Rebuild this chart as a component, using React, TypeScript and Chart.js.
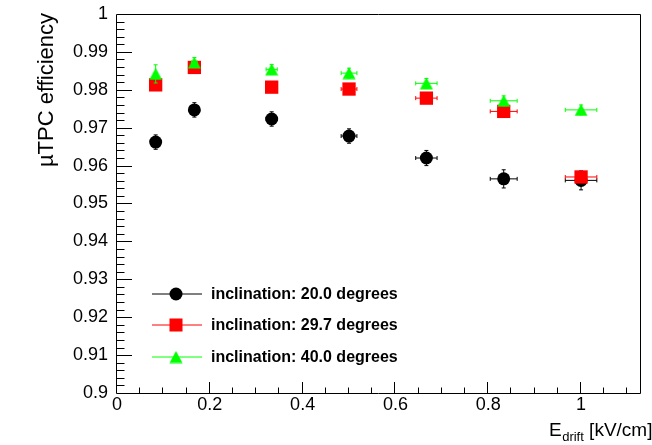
import React, { useEffect, useRef } from 'react';
import { Chart, registerables } from 'chart.js';

Chart.register(...registerables);

// ---- data ----
const driftField = [0.0833, 0.1667, 0.3333, 0.5, 0.6667, 0.8333, 1.0];
const driftFieldErr = [0.003, 0.006, 0.012, 0.017, 0.023, 0.029, 0.034];

const eff20 = [0.9662, 0.9747, 0.9723, 0.9678, 0.962, 0.9565, 0.9561];
const eff20Err = [0.0019, 0.0019, 0.0019, 0.0019, 0.002, 0.0024, 0.0025];

const eff297 = [0.9813, 0.9859, 0.9807, 0.9802, 0.9778, 0.9743, 0.957];
const eff297Err = [0.0012, 0.0012, 0.0012, 0.0012, 0.0012, 0.0012, 0.0012];

const eff40 = [0.9842, 0.9872, 0.9854, 0.9844, 0.9817, 0.9771, 0.9747];
const eff40Err = [0.0024, 0.0013, 0.0013, 0.0013, 0.0013, 0.0013, 0.0013];

const seriesLabels = [
  'inclination: 20.0 degrees',
  'inclination: 29.7 degrees',
  'inclination: 40.0 degrees',
];

const xTickValues = [0, 0.2, 0.4, 0.6, 0.8, 1];
const xTickLabels = ['0', '0.2', '0.4', '0.6', '0.8', '1'];
const yTickValues = [0.9, 0.91, 0.92, 0.93, 0.94, 0.95, 0.96, 0.97, 0.98, 0.99, 1];
const yTickLabels = ['0.9', '0.91', '0.92', '0.93', '0.94', '0.95', '0.96', '0.97', '0.98', '0.99', '1'];

const yTitle = 'µTPC efficiency';
const xTitleMain = 'E';
const xTitleSub = 'drift';
const xTitleUnit = ' [kV/cm]';

const FONT = "'Liberation Sans', Arial, Helvetica, sans-serif";
const BLACK = '#000000';
const RED = '#ff0000';
const GREEN = '#00ff00';

let triangleMarker: HTMLCanvasElement | null = null;

function makeTriangle(color: string): HTMLCanvasElement {
  const c = document.createElement('canvas');
  c.width = 14;
  c.height = 13;
  const g = c.getContext('2d')!;
  g.fillStyle = color;
  g.beginPath();
  g.moveTo(7, 0.5);
  g.lineTo(13.5, 12.5);
  g.lineTo(0.5, 12.5);
  g.closePath();
  g.fill();
  return c;
}

const errorBarPlugin = {
  id: 'errorBars',
  beforeDatasetDraw(chart: any, args: any) {
    const ds = chart.data.datasets[args.index];
    const xs = chart.scales.x;
    const ys = chart.scales.y;
    const ctx = chart.ctx;
    ctx.save();
    ctx.strokeStyle = ds.errColor;
    ctx.lineWidth = 1;
    ds.data.forEach((p: any, i: number) => {
      const px = xs.getPixelForValue(p.x);
      const py = ys.getPixelForValue(p.y);
      const x1 = xs.getPixelForValue(p.x - ds.xErr[i]);
      const x2 = xs.getPixelForValue(p.x + ds.xErr[i]);
      const y1 = ys.getPixelForValue(p.y + ds.yErr[i]);
      const y2 = ys.getPixelForValue(p.y - ds.yErr[i]);
      ctx.beginPath();
      ctx.moveTo(x1, py);
      ctx.lineTo(x2, py);
      ctx.moveTo(x1, py - 2);
      ctx.lineTo(x1, py + 2);
      ctx.moveTo(x2, py - 2);
      ctx.lineTo(x2, py + 2);
      ctx.moveTo(px, y1);
      ctx.lineTo(px, y2);
      ctx.moveTo(px - 2, y1);
      ctx.lineTo(px + 2, y1);
      ctx.moveTo(px - 2, y2);
      ctx.lineTo(px + 2, y2);
      ctx.stroke();
    });
    ctx.restore();
  },
};

const framePlugin = {
  id: 'frameTicks',
  afterDraw(chart: any) {
    const { ctx, chartArea } = chart;
    const { left, right, top, bottom } = chartArea;
    const xs = chart.scales.x;
    const ys = chart.scales.y;
    ctx.save();
    ctx.strokeStyle = '#000';
    ctx.lineWidth = 1;
    ctx.beginPath();
    ctx.rect(left - 0.5, top + 0.5, right - left + 1, bottom - top);
    ctx.stroke();
    ctx.beginPath();
    for (let k = 0; k * 0.05 <= xs.max + 1e-9; k++) {
      const v = k * 0.05;
      const px = Math.round(xs.getPixelForValue(v)) - 0.5;
      const len = k % 4 === 0 ? 11 : 5.5;
      ctx.moveTo(px, bottom);
      ctx.lineTo(px, bottom - len);
    }
    for (let k = 0; 0.9 + k * 0.002 <= ys.max + 1e-9; k++) {
      const v = 0.9 + k * 0.002;
      const py = Math.round(ys.getPixelForValue(v)) + 0.5;
      const len = k % 5 === 0 ? 15 : 7.5;
      ctx.moveTo(left, py);
      ctx.lineTo(left + len, py);
    }
    ctx.stroke();
    ctx.restore();
  },
};

const titlesPlugin = {
  id: 'titles',
  afterDraw(chart: any) {
    const { ctx, chartArea } = chart;
    ctx.save();
    ctx.fillStyle = '#000';
    ctx.save();
    ctx.translate(53, chartArea.top - 1);
    ctx.rotate(-Math.PI / 2);
    ctx.font = `22px ${FONT}`;
    ctx.textAlign = 'right';
    ctx.textBaseline = 'alphabetic';
    ctx.fillText(yTitle, 0, 0);
    ctx.restore();
    ctx.textBaseline = 'alphabetic';
    ctx.textAlign = 'left';
    let x = 549;
    const base = 435.5;
    ctx.font = `19px ${FONT}`;
    ctx.fillText(xTitleMain, x, base);
    x += ctx.measureText(xTitleMain).width;
    ctx.font = `13px ${FONT}`;
    ctx.fillText(xTitleSub, x + 0.5, base + 5);
    x += ctx.measureText(xTitleSub).width + 0.5;
    ctx.font = `19px ${FONT}`;
    ctx.fillText(xTitleUnit, x, base);
    ctx.restore();
  },
};

const legendPlugin = {
  id: 'inLegend',
  afterDraw(chart: any) {
    const { ctx, chartArea } = chart;
    const x0 = chartArea.left + 35;
    const rows = [294, 325, 357];
    const colors = [BLACK, RED, GREEN];
    ctx.save();
    rows.forEach((y, i) => {
      ctx.strokeStyle = colors[i];
      ctx.lineWidth = 1;
      ctx.beginPath();
      ctx.moveTo(x0, y);
      ctx.lineTo(x0 + 50, y);
      ctx.stroke();
      const cx = x0 + 24;
      ctx.fillStyle = colors[i];
      if (i === 0) {
        ctx.beginPath();
        ctx.arc(cx, y, 6.5, 0, Math.PI * 2);
        ctx.fill();
      } else if (i === 1) {
        ctx.fillRect(cx - 6.5, y - 6.5, 13, 13);
      } else if (triangleMarker) {
        ctx.drawImage(triangleMarker, cx - 7, y - 6.5);
      }
      ctx.fillStyle = '#000';
      ctx.font = `bold 16px ${FONT}`;
      ctx.textAlign = 'left';
      ctx.textBaseline = 'middle';
      ctx.fillText(seriesLabels[i], x0 + 59, y + 1);
    });
    ctx.restore();
  },
};

export default function App() {
  const ref = useRef<HTMLCanvasElement | null>(null);

  useEffect(() => {
    if (!ref.current) return;
    triangleMarker = makeTriangle(GREEN);
    const pts = (ys: number[]) => driftField.map((x, i) => ({ x, y: ys[i] }));
    const chart = new Chart(ref.current, {
      type: 'scatter',
      data: {
        datasets: [
          {
            label: seriesLabels[0],
            data: pts(eff20),
            pointStyle: 'circle',
            pointRadius: 6.5,
            backgroundColor: BLACK,
            borderWidth: 0,
            order: 2,
            errColor: BLACK,
            xErr: driftFieldErr,
            yErr: eff20Err,
          } as any,
          {
            label: seriesLabels[1],
            data: pts(eff297),
            pointStyle: 'rect',
            pointRadius: 9.4,
            backgroundColor: RED,
            borderWidth: 0,
            order: 1,
            errColor: RED,
            xErr: driftFieldErr,
            yErr: eff297Err,
          } as any,
          {
            label: seriesLabels[2],
            data: pts(eff40),
            pointStyle: triangleMarker,
            pointRadius: 7,
            backgroundColor: GREEN,
            borderWidth: 0,
            order: 0,
            errColor: GREEN,
            xErr: driftFieldErr,
            yErr: eff40Err,
          } as any,
        ],
      },
      options: {
        responsive: false,
        animation: false,
        devicePixelRatio: 1,
        events: [],
        layout: { autoPadding: false, padding: { top: 14, right: 12, left: 0, bottom: 0 } },
        plugins: {
          legend: { display: false },
          tooltip: { enabled: false },
        },
        scales: {
          x: {
            type: 'linear',
            min: 0,
            max: 1.127,
            grid: { display: false, drawTicks: false },
            border: { display: false },
            afterFit: (s: any) => {
              s.height = 52;
              s.paddingLeft = 0;
              s.paddingRight = 0;
            },
            afterBuildTicks: (s: any) => {
              s.ticks = xTickValues.map((v) => ({ value: v }));
            },
            ticks: {
              autoSkip: false,
              maxRotation: 0,
              padding: 1,
              color: '#000',
              font: { family: FONT, size: 18 },
              callback: (_v: any, i: number) => xTickLabels[i],
            },
          },
          y: {
            type: 'linear',
            min: 0.9,
            max: 1,
            grid: { display: false, drawTicks: false },
            border: { display: false },
            afterFit: (s: any) => {
              s.width = 117;
              s.paddingTop = 0;
              s.paddingBottom = 0;
            },
            afterBuildTicks: (s: any) => {
              s.ticks = yTickValues.map((v) => ({ value: v }));
            },
            ticks: {
              autoSkip: false,
              padding: 9,
              color: '#000',
              font: { family: FONT, size: 18 },
              callback: (_v: any, i: number) => yTickLabels[i],
            },
          },
        },
      } as any,
      plugins: [errorBarPlugin, framePlugin, titlesPlugin, legendPlugin],
    });
    return () => chart.destroy();
  }, []);

  return (
    <div style={{ position: 'absolute', left: 0, top: 0, width: 652, height: 445, background: '#fff' }}>
      <canvas ref={ref} width={652} height={445} style={{ display: 'block' }} />
    </div>
  );
}
